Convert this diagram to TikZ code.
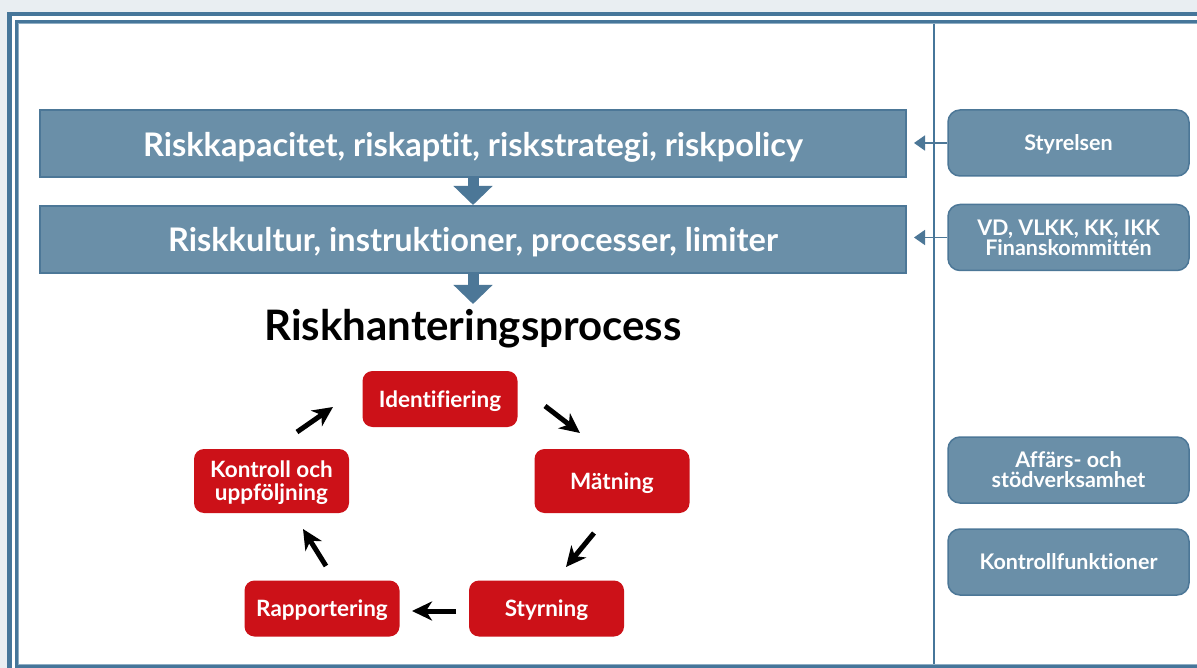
\documentclass[tikz,border=0pt]{standalone}
\usepackage{fontspec}
\setmainfont{Lato}[Ligatures=NoCommon]
\usetikzlibrary{arrows.meta}
\definecolor{pagebg}{HTML}{E9EEF2}
\definecolor{frameblue}{HTML}{46769A}
\definecolor{framelight}{HTML}{8FAEC4}
\definecolor{boxfill}{HTML}{6A8FA8}
\definecolor{boxedge}{HTML}{4C7797}
\definecolor{procred}{HTML}{CC1118}
\tikzset{
  bluebar/.style={draw=boxedge, line width=2pt, fill=boxfill, text=white,
    minimum width=866pt, minimum height=67pt, inner sep=0pt, text depth=0pt,
    font=\bfseries\fontsize{32.5}{36}\selectfont},
  rolebox/.style={draw=boxedge, line width=1.5pt, fill=boxfill, text=white,
    rounded corners=12pt, minimum width=241pt, minimum height=66pt, inner sep=0pt,
    text depth=0pt, align=center, font=\bfseries\fontsize{21.5}{19}\selectfont},
  stepbox/.style={fill=procred, text=white, rounded corners=10pt,
    minimum width=155pt, minimum height=56pt, inner sep=0pt, text depth=0pt,
    align=center, font=\bfseries\fontsize{22.5}{23}\selectfont},
  downarrow/.style={draw=boxedge, line width=11pt,
    -{Triangle[width=38pt,length=19pt]}},
  rolearrow/.style={draw=boxedge, line width=1.5pt,
    -{Triangle[width=15pt,length=11pt]}},
  cyclearrow/.style={draw=black, line width=5pt,
    -{Stealth[width=19pt,length=20pt,inset=6pt]}},
}
\begin{document}
\begin{tikzpicture}[x=1pt,y=-1pt]
\useasboundingbox (0,0) rectangle (1197,668);
\clip (0,0) rectangle (1197,668);
% page and double frame
\fill[pagebg] (0,0) rectangle (1197,668);
\draw[frameblue, line width=4.5pt, fill=white] (9.5,14) rectangle (1240,700);
\draw[frameblue, line width=4pt] (17,22) rectangle (1230,666);
\draw[framelight, line width=1.2pt] (18.6,23.6) rectangle (1228,664.4);
\draw[frameblue, line width=2pt] (934,24) -- (934,664);

% policy bars
\node[bluebar] (cap) at (473,144) {Riskkapacitet, riskaptit, riskstrategi, riskpolicy};
\node[bluebar] (cult) at (473,239.5) {Riskkultur, instruktioner, processer, limiter};
\coordinate (procin) at (473,304);
\draw[downarrow] (cap.south) -- (cult.north);
\draw[downarrow] (cult.south) -- (procin);

% roles
\node[rolebox] (board) at (1068.5,143) {Styrelsen};
\node[rolebox] (mgmt) at (1068.5,237.5) {VD, VLKK, KK, IKK\\Finanskommittén};
\node[rolebox, font=\bfseries\fontsize{21.5}{20}\selectfont] (biz) at (1068.5,470) {Affärs- och\\stödverksamhet};
\node[rolebox] (ctrl) at (1068.5,562) {Kontrollfunktioner};
\draw[rolearrow, shorten >=7pt] (board.west) -- (board.west -| cap.east);
\draw[rolearrow, shorten >=7pt] (mgmt.west) -- (mgmt.west -| cult.east);

% risk management process
\node[font=\bfseries\fontsize{42}{44}\selectfont] (title) at (473,329) {Riskhanteringsprocess};
\node[stepbox] (ident) at (440,399) {Identifiering};
\node[stepbox, minimum height=64pt] (meas) at (612,481) {Mätning};
\node[stepbox] (steer) at (546.5,608.5) {Styrning};
\node[stepbox] (report) at (322,608.5) {Rapportering};
\node[stepbox, minimum height=64pt] (follow) at (271.5,481) {Kontroll och\\uppföljning};

\coordinate (a1s) at (545,406);  \coordinate (a1e) at (580,433);
\coordinate (a2s) at (594,533);  \coordinate (a2e) at (566,567);
\coordinate (a3s) at (456,611);  \coordinate (a3e) at (412,611);
\coordinate (a4s) at (326,566);  \coordinate (a4e) at (303,529);
\coordinate (a5s) at (297,432);  \coordinate (a5e) at (333,407);
\draw[cyclearrow] (a1s) -- (a1e);
\draw[cyclearrow] (a2s) -- (a2e);
\draw[cyclearrow] (a3s) -- (a3e);
\draw[cyclearrow] (a4s) -- (a4e);
\draw[cyclearrow] (a5s) -- (a5e);
\end{tikzpicture}
\end{document}
